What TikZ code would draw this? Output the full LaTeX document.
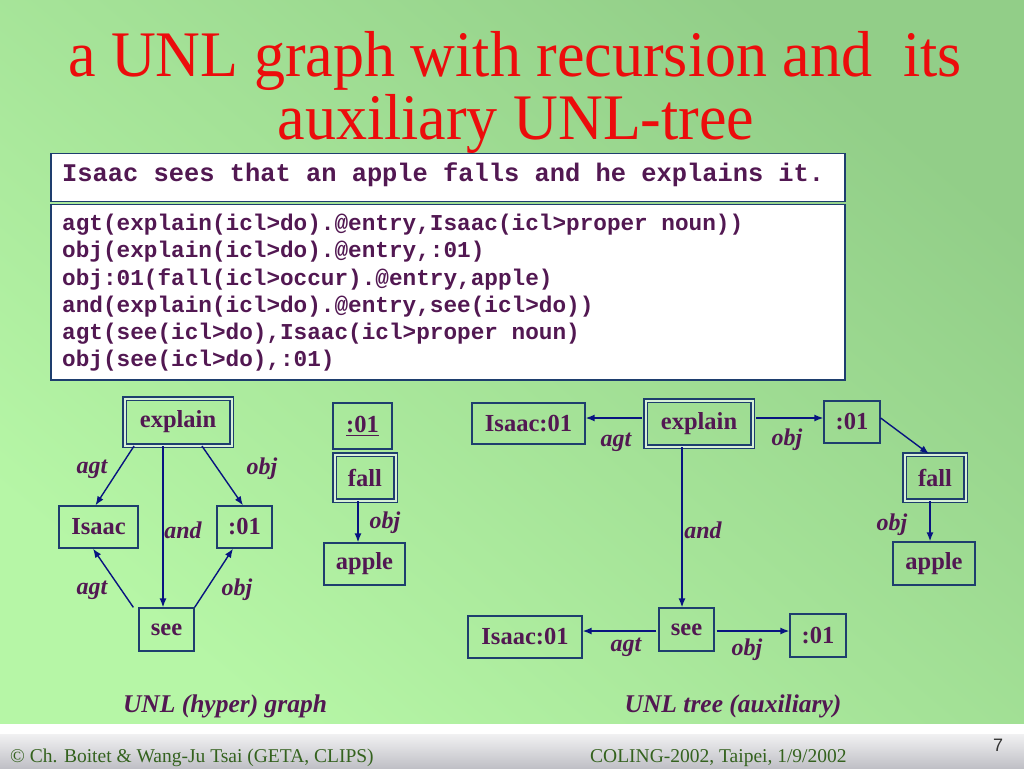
\documentclass[tikz,border=0pt]{standalone}
\usepackage{fontspec}
\setmainfont{Liberation Serif}
\newfontfamily\monof{Liberation Mono}
\newfontfamily\sansf{Liberation Sans}
\usetikzlibrary{arrows.meta,calc}
\definecolor{bgL}{RGB}{182,246,166}
\definecolor{bgR}{RGB}{146,206,136}
\definecolor{titlered}{RGB}{236,12,12}
\definecolor{txtpurple}{RGB}{82,24,82}
\definecolor{boxcol}{RGB}{30,62,110}
\definecolor{edgecol}{RGB}{8,20,128}
\definecolor{gapcol}{RGB}{215,240,215}
\definecolor{footgreen}{RGB}{52,98,30}
\definecolor{footgray}{RGB}{192,192,198}
\tikzset{
  unode/.style={draw=boxcol, line width=1.3pt, inner sep=0pt, text=txtpurple,
    font=\bfseries\fontsize{24.5}{28}\selectfont},
  dnode/.style={unode, double=gapcol, double distance=2pt, line width=1.1pt},
  edge/.style={draw=edgecol, line width=1.4pt, -{Latex[length=9pt,width=7pt]}},
  elab/.style={text=txtpurple, font=\bfseries\itshape\fontsize{24}{28}\selectfont, inner sep=0pt},
  caplab/.style={text=txtpurple, font=\bfseries\itshape\fontsize{25.5}{30}\selectfont, inner sep=0pt},
  codeline/.style={anchor=base west, inner sep=0pt, text=txtpurple,
    font=\monof\bfseries\fontsize{22.7}{27}\selectfont},
  sentline/.style={anchor=base west, inner sep=0pt, text=txtpurple,
    font=\monof\bfseries\fontsize{25.4}{30}\selectfont},
  titleline/.style={anchor=base, inner sep=0pt, text=titlered, xscale=0.954,
    font=\fontsize{65}{70}\selectfont},
  footline/.style={anchor=base west, inner sep=0pt, text=footgreen, font=\fontsize{19.5}{22}\selectfont}
}
\begin{document}
\begin{tikzpicture}[x=1pt,y=-1pt]
\useasboundingbox (0,0) rectangle (1024,768);
% background
\shade[top color=bgR, bottom color=bgL, shading angle=-40] (0,0) rectangle (1024,724);
\shade[top color=white, bottom color=footgray] (0,724) rectangle (1024,768);
\fill[white] (0,724) rectangle (1024,734);

% title
\node[titleline] (t1) at (515,77) {a UNL graph with recursion and\ \ its};
\node[titleline] (t2) at (516,139) {auxiliary UNL-tree};

% text boxes
\draw[boxcol, line width=1.3pt, fill=white] (51,153.5) rectangle (845,201.5);
\draw[boxcol, line width=1.3pt, fill=white] (51,204.5) rectangle (845,380);
\node[sentline] (sent) at (62,181.7) {Isaac sees that an apple falls and he explains it.};
\node[codeline] (c1) at (62,230.7) {agt(explain(icl>do).@entry,Isaac(icl>proper noun))};
\node[codeline] (c2) at (62,257.9) {obj(explain(icl>do).@entry,:01)};
\node[codeline] (c3) at (62,285.1) {obj:01(fall(icl>occur).@entry,apple)};
\node[codeline] (c4) at (62,312.3) {and(explain(icl>do).@entry,see(icl>do))};
\node[codeline] (c5) at (62,339.5) {agt(see(icl>do),Isaac(icl>proper noun)};
\node[codeline] (c6) at (62,366.7) {obj(see(icl>do),:01)};

% ---------- left graph ----------
\node[dnode, minimum width=107pt, minimum height=47pt] (ex) at (178,422) {explain};
\node[unode, minimum width=79pt, minimum height=42pt] (is) at (98.5,527) {Isaac};
\node[unode, minimum width=55pt, minimum height=42pt] (oa) at (244.5,527) {:01};
\node[unode, minimum width=55pt, minimum height=43pt] (se) at (166.5,629.5) {see};
\node[unode, minimum width=59pt, minimum height=46pt] (u1) at (362.5,426) {\underline{:01}};
\node[dnode, minimum width=61pt, minimum height=46pt] (fa) at (365,477.5) {fall};
\node[unode, minimum width=81pt, minimum height=42pt] (ap) at (364.5,564) {apple};

\draw[edge] ($(ex.south)+(-44,0)$) -- ($(is.north)+(-3,0)$);
\draw[edge] ($(ex.south)+(-15,0)$) -- ($(se.north)+(-3.5,0)$);
\draw[edge] ($(ex.south)+(24,0)$) -- ($(oa.north)+(-1.5,0)$);
\draw[edge] ($(se.north west)+(-5,0)$) -- ($(is.south)+(-5.5,0)$);
\draw[edge] (se.north east) -- ($(oa.south)+(-11.5,0)$);
\draw[edge] ($(fa.south)+(-7,0)$) -- ($(ap.north)+(-6.5,0)$);

\node[elab] (l1) at (92,469) {agt};
\node[elab] (l2) at (183,530) {and};
\node[elab] (l3) at (262,469) {obj};
\node[elab] (l4) at (92,590) {agt};
\node[elab] (l5) at (237,590) {obj};
\node[elab] (l6) at (385,523) {obj};
\node[caplab] (cap1) at (225,706) {UNL (hyper) graph};

% ---------- right tree ----------
\node[unode, minimum width=113pt, minimum height=41pt] (i1) at (528.5,423.5) {Isaac:01};
\node[dnode, minimum width=107pt, minimum height=46pt] (e2) at (699,423.5) {explain};
\node[unode, minimum width=56pt, minimum height=42pt] (o1) at (852,422) {:01};
\node[dnode, minimum width=61pt, minimum height=46pt] (f2) at (935,477.5) {fall};
\node[unode, minimum width=82pt, minimum height=43pt] (a2) at (934,563.5) {apple};
\node[unode, minimum width=55pt, minimum height=43pt] (s2) at (686.5,629.5) {see};
\node[unode, minimum width=114pt, minimum height=42pt] (i2) at (525,637) {Isaac:01};
\node[unode, minimum width=56pt, minimum height=43pt] (o2) at (818,635.5) {:01};

\coordinate (pe1) at ($(e2.west)+(-3,-5.5)$);
\draw[edge] (pe1) -- (pe1 -| i1.east);
\coordinate (pe2) at ($(e2.east)+(3,-5.5)$);
\draw[edge] (pe2) -- (pe2 -| o1.west);
\draw[edge] ($(o1.east)+(0,-4)$) -- ($(f2.north)+(-6,0)$);
\coordinate (pf2) at ($(f2.south)+(-5,0)$);
\draw[edge] (pf2) -- (pf2 |- a2.north);
\coordinate (pe3) at ($(e2.south)+(-17,0)$);
\draw[edge] (pe3) -- (pe3 |- s2.north);
\coordinate (ps1) at ($(s2.west)+(-2,1.5)$);
\draw[edge] (ps1) -- (ps1 -| i2.east);
\coordinate (ps2) at ($(s2.east)+(2,1.5)$);
\draw[edge] (ps2) -- (ps2 -| o2.west);

\node[elab] (r1) at (616,442) {agt};
\node[elab] (r2) at (703,530) {and};
\node[elab] (r3) at (787,440) {obj};
\node[elab] (r4) at (892,525) {obj};
\node[elab] (r5) at (626,647) {agt};
\node[elab] (r6) at (747,650) {obj};
\node[caplab] (cap2) at (733,706) {UNL tree (auxiliary)};

% footer
\node[footline] (f1) at (10,762) {\textcopyright{} Ch. Boitet \& Wang-Ju Tsai (GETA, CLIPS)};
\node[footline] (f2t) at (590,762) {COLING-2002, Taipei, 1/9/2002};
\node[anchor=base, inner sep=0pt, text={rgb,255:red,50;green,50;blue,50}, font=\sansf\fontsize{18}{20}\selectfont] (pg) at (998,751.5) {7};
\end{tikzpicture}
\end{document}
